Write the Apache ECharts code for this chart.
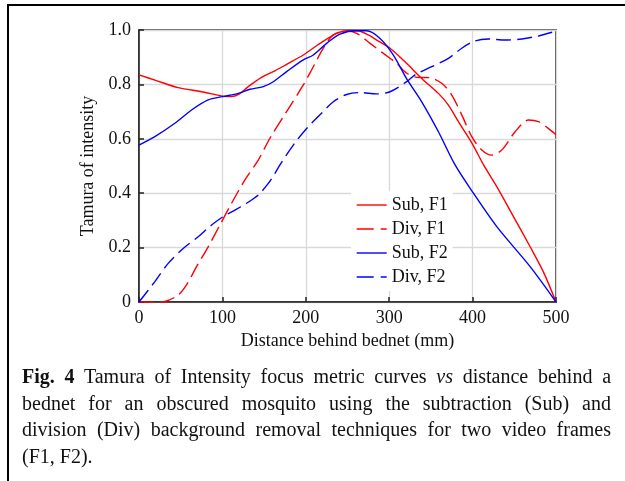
<!DOCTYPE html>
<html>
<head>
<meta charset="utf-8">
<script src="https://cdn.jsdelivr.net/npm/echarts@6/dist/echarts.min.js"></script>
<style>
  html, body { margin: 0; padding: 0; background: #fff; overflow: hidden; }
  #wrap { position: relative; width: 625px; height: 481px; overflow: hidden; }
  #chart { position: absolute; left: 0; top: 0; width: 625px; height: 481px; }
  #frame { position: absolute; left: 7px; top: 4px; width: 700px; height: 600px; border: 2px solid #000; box-sizing: border-box; }
  #caption { position: absolute; left: 22px; top: 363px; width: 589px; font-family: 'Liberation Serif', 'Times New Roman', serif; font-size: 20px; line-height: 26.5px; color: #111; }
  #caption .j { text-align: justify; text-align-last: justify; }
</style>
</head>
<body>
<div id="wrap">
  <div id="frame"></div>
  <div id="chart"></div>
  <div id="caption">
    <div class="j"><b>Fig. 4</b> Tamura of Intensity focus metric curves <i>vs</i> distance behind a</div>
    <div class="j">bednet for an obscured mosquito using the subtraction (Sub) and</div>
    <div class="j">division (Div) background removal techniques for two video frames</div>
    <div>(F1, F2).</div>
  </div>
</div>
<script>
// Distance behind bednet (mm) and normalised Tamura intensity for each curve
const subF1X = [0, 20, 47, 75, 100, 110, 120, 131, 147, 163, 177, 197, 217, 237, 251, 262, 275, 285, 301, 319, 339, 359, 371, 383, 399, 413, 429, 449, 469, 485, 500];
const subF1Y = [0.835, 0.815, 0.788, 0.773, 0.757, 0.755, 0.764, 0.792, 0.826, 0.850, 0.874, 0.908, 0.951, 0.988, 0.998, 0.997, 0.982, 0.963, 0.933, 0.883, 0.822, 0.767, 0.724, 0.663, 0.585, 0.505, 0.424, 0.314, 0.203, 0.110, 0];

const divF1X = [0, 20, 31, 47, 57, 69, 83, 97, 111, 127, 143, 157, 177, 197, 209, 221, 233, 249, 261, 277, 293, 309, 321, 333, 348, 363, 375, 387, 399, 411, 423, 435, 451, 467, 479, 490, 500];
const divF1Y = [0, 0, 0.002, 0.026, 0.063, 0.130, 0.203, 0.283, 0.363, 0.449, 0.522, 0.602, 0.700, 0.798, 0.865, 0.933, 0.982, 0.996, 0.988, 0.951, 0.914, 0.877, 0.841, 0.826, 0.825, 0.804, 0.761, 0.688, 0.608, 0.559, 0.540, 0.559, 0.626, 0.669, 0.663, 0.640, 0.615];

const subF2X = [0, 19, 43, 63, 83, 100, 119, 133, 149, 160, 177, 197, 209, 225, 241, 261, 273, 289, 305, 321, 339, 359, 379, 401, 429, 469, 500];
const subF2Y = [0.577, 0.608, 0.657, 0.706, 0.743, 0.755, 0.767, 0.782, 0.792, 0.808, 0.847, 0.890, 0.908, 0.951, 0.985, 0.997, 0.997, 0.969, 0.908, 0.820, 0.736, 0.626, 0.504, 0.400, 0.277, 0.130, 0];

const divF2X = [0, 19, 35, 53, 71, 87, 101, 115, 129, 143, 155, 163, 169, 185, 201, 217, 233, 249, 265, 285, 301, 321, 331, 351, 371, 387, 403, 419, 439, 459, 479, 493, 500];
const divF2Y = [0, 0.075, 0.142, 0.197, 0.240, 0.283, 0.314, 0.338, 0.363, 0.393, 0.436, 0.473, 0.504, 0.577, 0.638, 0.688, 0.736, 0.763, 0.770, 0.765, 0.773, 0.810, 0.835, 0.865, 0.896, 0.933, 0.960, 0.967, 0.963, 0.967, 0.978, 0.990, 0.995];

const seriesNames = ['Sub, F1', 'Div, F1', 'Sub, F2', 'Div, F2'];
const xTicks = [0, 100, 200, 300, 400, 500];
const yTicks = [0, 0.2, 0.4, 0.6, 0.8, 1.0];

const pairs = (xs, ys) => xs.map((x, i) => [x, ys[i]]);
const FONT = "'Liberation Serif', 'Times New Roman', serif";
const AXIS = '#231f20';
const RED = '#ff0000';
const BLUE = '#0000ff';

function curve(name, xs, ys, color, dashed) {
  return {
    name: name,
    type: 'line',
    data: pairs(xs, ys),
    symbol: 'none',
    smooth: 0.3,
    lineStyle: { color: color, width: 1.4, type: dashed ? [15, 6] : 'solid' },
    itemStyle: { color: color },
    z: 3
  };
}

// Legend keys: only the line sample, no marker dot
function legendItem(name, color, dashed) {
  return {
    name: name,
    itemStyle: { color: color, opacity: 0, borderWidth: 0 },
    lineStyle: { color: color, width: 1.4, type: dashed ? [17, 7] : 'solid' }
  };
}

const chart = echarts.init(document.getElementById('chart'), null, { renderer: 'canvas' });
chart.setOption({
  animation: false,
  backgroundColor: 'transparent',
  textStyle: { fontFamily: FONT },
  grid: { left: 139, top: 30, width: 417, height: 272, show: true, borderColor: AXIS, borderWidth: 1.5, backgroundColor: 'transparent' },
  legend: {
    orient: 'vertical',
    left: 351,
    top: 191,
    padding: 5,
    itemWidth: 30,
    itemHeight: 14,
    itemGap: 6,
    backgroundColor: '#fff',
    data: [
      legendItem(seriesNames[0], RED, false),
      legendItem(seriesNames[1], RED, true),
      legendItem(seriesNames[2], BLUE, false),
      legendItem(seriesNames[3], BLUE, true)
    ],
    textStyle: { fontFamily: FONT, fontSize: 18, color: '#111' }
  },
  xAxis: {
    type: 'value',
    min: xTicks[0],
    max: xTicks[xTicks.length - 1],
    interval: 100,
    name: 'Distance behind bednet (mm)',
    nameLocation: 'middle',
    nameGap: 29,
    nameTextStyle: { fontFamily: FONT, fontSize: 18, color: '#111' },
    axisLine: { lineStyle: { color: AXIS, width: 1.5 } },
    axisTick: { inside: true, length: 5, lineStyle: { color: AXIS, width: 1.5 } },
    axisLabel: { fontFamily: FONT, fontSize: 18, color: '#111', margin: 7 },
    splitLine: { show: true, lineStyle: { color: '#d9d9d9', width: 1.3 } }
  },
  yAxis: {
    type: 'value',
    min: yTicks[0],
    max: yTicks[yTicks.length - 1],
    interval: 0.2,
    name: 'Tamura of intensity',
    nameLocation: 'middle',
    nameGap: 42,
    nameTextStyle: { fontFamily: FONT, fontSize: 18, color: '#111' },
    axisLine: { lineStyle: { color: AXIS, width: 1.5 } },
    axisTick: { inside: true, length: 5, lineStyle: { color: AXIS, width: 1.5 } },
    axisLabel: { fontFamily: FONT, fontSize: 18, color: '#111', margin: 8,
      formatter: v => (v === 0 ? '0' : v.toFixed(1)) },
    splitLine: { show: true, lineStyle: { color: '#d9d9d9', width: 1.3 } }
  },
  series: [
    curve(seriesNames[0], subF1X, subF1Y, RED, false),
    curve(seriesNames[1], divF1X, divF1Y, RED, true),
    curve(seriesNames[2], subF2X, subF2Y, BLUE, false),
    curve(seriesNames[3], divF2X, divF2Y, BLUE, true)
  ]
});
</script>
</body>
</html>
